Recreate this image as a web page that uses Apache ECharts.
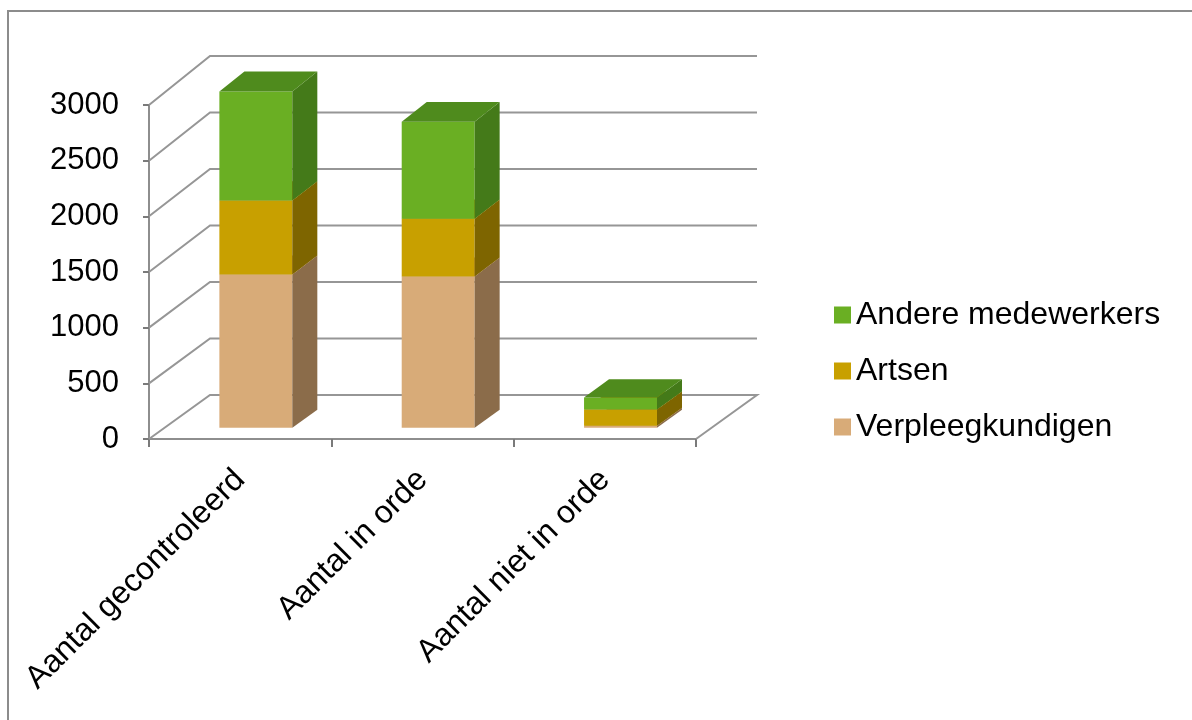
<!DOCTYPE html>
<html>
<head>
<meta charset="utf-8">
<script src="https://cdn.jsdelivr.net/npm/echarts@6/dist/echarts.min.js"></script>
<style>
html, body { margin: 0; padding: 0; background: #fff; }
#chart { width: 1192px; height: 720px; }
</style>
</head>
<body>
<div id="chart"></div>
<script>
// data
const categories = ['Aantal gecontroleerd', 'Aantal in orde', 'Aantal niet in orde'];
const verpleegkundigen = [1370, 1352, 18];
const artsen = [662, 518, 144];
const andereMedewerkers = [975, 867, 108];
const yTicks = [0, 500, 1000, 1500, 2000, 2500, 3000];

// pseudo 3D: depth offset of the back wall, bar depth range
const DX = 61, DY = -44, K = 0.015;
const F0 = 0.257, F1 = 0.667;
const FONT = "'Liberation Sans', Arial, sans-serif";

function project(api, cat, v, f, xShift) {
    const p = api.coord([cat, v]);
    const y0 = api.coord([cat, 0])[1];
    return [p[0] + xShift + DX * f, p[1] + f * (DY + (p[1] - y0) * K)];
}

function barRender(colors) {
    return function (params, api) {
        const cat = api.value(0);
        const top = api.value(1);
        const base = api.value(2);
        const hw = api.size([1, 0])[0] * 0.2;
        const P = (v, f, s) => project(api, cat, v, f, s);
        const front = [P(base, F0, -hw), P(base, F0, hw), P(top, F0, hw), P(top, F0, -hw)];
        const side = [P(base, F0, hw), P(base, F1, hw), P(top, F1, hw), P(top, F0, hw)];
        const topFace = [P(top, F0, -hw), P(top, F0, hw), P(top, F1, hw), P(top, F1, -hw)];
        return {
            type: 'group',
            children: [
                { type: 'polygon', shape: { points: front }, style: { fill: colors.front } },
                { type: 'polygon', shape: { points: side }, style: { fill: colors.side } },
                { type: 'polygon', shape: { points: topFace }, style: { fill: colors.top } }
            ]
        };
    };
}

// stacked layers, bottom to top
const layers = [
    { name: 'Verpleegkundigen', values: verpleegkundigen, colors: { front: '#D8AB78', side: '#8B6C4A', top: '#C49766' } },
    { name: 'Artsen', values: artsen, colors: { front: '#C8A000', side: '#7E6500', top: '#A88600' } },
    { name: 'Andere medewerkers', values: andereMedewerkers, colors: { front: '#6AAF23', side: '#447A19', top: '#4F8B1D' } }
];

const cumulative = categories.map(() => 0);
const barSeries = layers.map(function (layer) {
    const data = categories.map(function (c, i) {
        const base = cumulative[i];
        cumulative[i] += layer.values[i];
        return [i, cumulative[i], base];
    });
    return {
        name: layer.name,
        type: 'custom',
        z: 3,
        itemStyle: { color: layer.colors.front },
        encode: { x: 0, y: 1 },
        renderItem: barRender(layer.colors),
        data: data
    };
});

const chart = echarts.init(document.getElementById('chart'));

const option = {
    animation: false,
    textStyle: { fontFamily: FONT },
    graphic: [
        {
            type: 'rect',
            shape: { x: 8, y: 11, width: 1300, height: 800 },
            style: { fill: 'none', stroke: '#8c8c8c', lineWidth: 2 },
            silent: true
        }
    ],
    grid: {
        left: 149,
        top: 105,
        width: 547,
        height: 334,
        containLabel: false
    },
    legend: {
        orient: 'vertical',
        left: 829,
        top: 294,
        itemWidth: 17,
        itemHeight: 17,
        itemGap: 24,
        icon: 'rect',
        data: ['Andere medewerkers', 'Artsen', 'Verpleegkundigen'],
        textStyle: {
            fontSize: 32,
            lineHeight: 32,
            color: '#000',
            fontFamily: FONT
        }
    },
    xAxis: {
        type: 'category',
        data: categories,
        boundaryGap: true,
        axisLine: { lineStyle: { color: '#8e8e8e', width: 2 } },
        axisTick: { show: true, length: 8, lineStyle: { color: '#7a7a7a', width: 2 } },
        axisLabel: {
            interval: 0,
            rotate: 45,
            margin: 36,
            fontSize: 32,
            color: '#000',
            fontFamily: FONT
        }
    },
    yAxis: {
        type: 'value',
        min: 0,
        max: 3000,
        interval: 500,
        axisLine: { show: true, lineStyle: { color: '#8e8e8e', width: 2 } },
        axisTick: { show: true, length: 6, lineStyle: { color: '#7a7a7a', width: 2 } },
        splitLine: { show: false },
        axisLabel: {
            margin: 30,
            fontSize: 31,
            color: '#000',
            fontFamily: FONT,
            formatter: function (v) { return String(v); }
        }
    },
    series: [
        {
            type: 'custom',
            name: 'walls',
            z: 1,
            silent: true,
            encode: { x: 0, y: 1 },
            renderItem: function (params, api) {
                const cs = params.coordSys;
                const v = api.value(1);
                const yF = api.coord([0, v])[1];
                const y0 = api.coord([0, 0])[1];
                const yB = yF + DY + (yF - y0) * K;
                const xl = cs.x, xr = cs.x + cs.width;
                const pts = [[xl, yF], [xl + DX, yB], [xr + DX, yB]];
                if (v === 0) pts.push([xr, yF]);
                return {
                    type: 'polyline',
                    shape: { points: pts },
                    style: { stroke: '#969696', lineWidth: 2, fill: 'none' }
                };
            },
            data: yTicks.map(v => [0, v])
        }
    ].concat(barSeries)
};

chart.setOption(option);

window.addEventListener('resize', function () {
    chart.resize();
});
</script>
</body>
</html>
